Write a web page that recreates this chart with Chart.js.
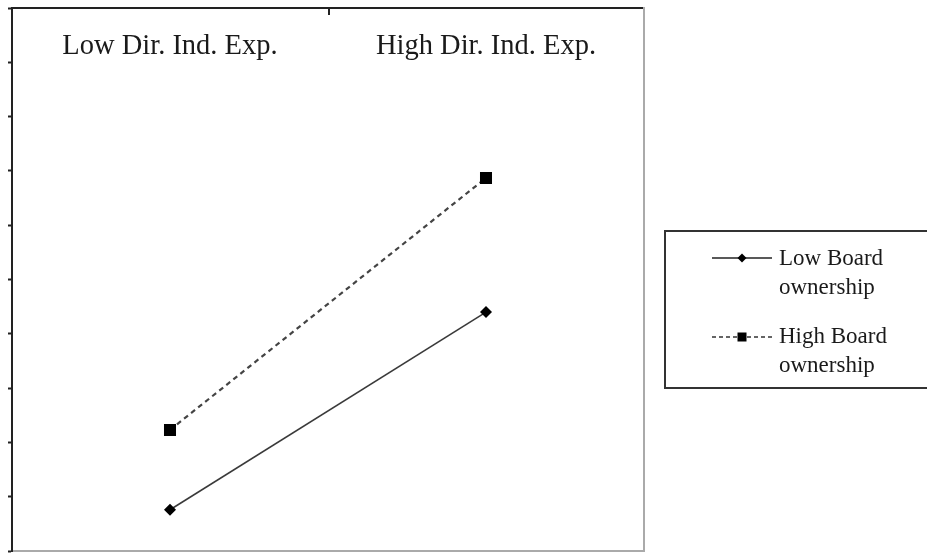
<!DOCTYPE html>
<html>
<head>
<meta charset="utf-8">
<script src="https://cdn.jsdelivr.net/npm/chart.js@4.4.0/dist/chart.umd.min.js"></script>
<style>
  html, body { margin: 0; padding: 0; background: #fff; }
  #wrap { width: 927px; height: 553px; position: relative; }
</style>
</head>
<body>
<div id="wrap"><canvas id="c" width="927" height="553"></canvas></div>
<script>
// ---- data ----
const categories = ["Low Dir. Ind. Exp.", "High Dir. Ind. Exp."];
const lowBoard = [0.76, 4.40];
const highBoard = [2.23, 6.87];
const seriesNames = [["Low Board", "ownership"], ["High Board", "ownership"]];
const yTicks = [0, 1, 2, 3, 4, 5, 6, 7, 8, 9, 10];

const SERIF = '"Liberation Serif", "Times New Roman", serif';

const decorPlugin = {
  id: 'decor',
  afterDraw(chart) {
    const ctx = chart.ctx;
    const xs = chart.scales.x;
    const ca = chart.chartArea;
    ctx.save();
    // middle tick on the top axis (category boundary)
    const mid = (xs.getPixelForTick(0) + xs.getPixelForTick(1)) / 2 + 1;
    ctx.strokeStyle = '#222';
    ctx.lineWidth = 2;
    ctx.beginPath();
    ctx.moveTo(mid, ca.top);
    ctx.lineTo(mid, ca.top + 7);
    ctx.stroke();
    // category labels inside the plot, under the top axis
    ctx.fillStyle = '#1a1a1a';
    ctx.font = '28.5px ' + SERIF;
    ctx.textAlign = 'center';
    ctx.textBaseline = 'alphabetic';
    categories.forEach((c, i) => {
      ctx.fillText(c, xs.getPixelForTick(i), ca.top + 46);
    });

    // legend box
    const bx = 665, by = 231, bw = 270, bh = 157;
    ctx.strokeStyle = '#333';
    ctx.lineWidth = 2;
    ctx.strokeRect(bx, by, bw, bh);
    const items = [
      { lineY: 258, base: 265 },
      { lineY: 337, base: 343 }
    ];
    chart.data.datasets.forEach((ds, i) => {
      const it = items[i];
      ctx.save();
      ctx.strokeStyle = i === 0 ? '#222' : '#333';
      ctx.lineWidth = i === 0 ? 1.6 : 1.4;
      ctx.setLineDash(i === 0 ? [] : [4, 3]);
      ctx.beginPath();
      ctx.moveTo(712, it.lineY);
      ctx.lineTo(772, it.lineY);
      ctx.stroke();
      ctx.restore();
      ctx.fillStyle = '#000';
      if (ds.pointStyle === 'rectRot') {
        const r = 4.5;
        ctx.beginPath();
        ctx.moveTo(742, it.lineY - r);
        ctx.lineTo(742 + r, it.lineY);
        ctx.lineTo(742, it.lineY + r);
        ctx.lineTo(742 - r, it.lineY);
        ctx.closePath();
        ctx.fill();
      } else {
        ctx.fillRect(742 - 4.5, it.lineY - 4.5, 9, 9);
      }
      ctx.fillStyle = '#1a1a1a';
      ctx.font = '23px ' + SERIF;
      ctx.textAlign = 'left';
      seriesNames[i].forEach((t, k) => {
        ctx.fillText(t, 779, it.base + k * 29);
      });
    });
    ctx.restore();
  }
};

new Chart(document.getElementById('c'), {
  type: 'line',
  data: {
    labels: categories,
    datasets: [
      {
        label: seriesNames[0].join(' '),
        data: lowBoard,
        borderColor: '#3a3a3a',
        borderWidth: 1.6,
        pointStyle: 'rectRot',
        pointRadius: 6,
        pointBackgroundColor: '#000',
        pointBorderColor: '#000',
        pointBorderWidth: 0,
        tension: 0
      },
      {
        label: seriesNames[1].join(' '),
        data: highBoard,
        borderColor: '#444',
        borderWidth: 2.2,
        borderDash: [5, 4],
        pointStyle: 'rect',
        pointRadius: 8.5,
        pointBackgroundColor: '#000',
        pointBorderColor: '#000',
        pointBorderWidth: 0,
        tension: 0
      }
    ]
  },
  options: {
    responsive: false,
    animation: false,
    devicePixelRatio: 1,
    layout: { autoPadding: false, padding: { left: 8, right: 283, top: 8, bottom: 2 } },
    plugins: { legend: { display: false }, tooltip: { enabled: false } },
    scales: {
      x: {
        type: 'category',
        position: 'top',
        offset: true,
        ticks: { display: false },
        grid: { display: true, drawOnChartArea: false, drawTicks: false, offset: true },
        border: { display: true, color: '#222', width: 2 }
      },
      xb: {
        type: 'linear',
        position: 'bottom',
        ticks: { display: false },
        grid: { display: false, drawTicks: false },
        border: { display: true, color: '#aaa', width: 2 }
      },
      y: {
        type: 'linear',
        position: 'left',
        min: 0,
        max: 10,
        afterBuildTicks(scale) { scale.ticks = yTicks.map(v => ({ value: v })); },
        ticks: { display: false },
        grid: { display: true, drawOnChartArea: false, drawTicks: true, tickLength: 4, color: '#222', tickWidth: 2 },
        border: { display: true, color: '#222', width: 2 }
      },
      yr: {
        type: 'linear',
        position: 'right',
        ticks: { display: false },
        grid: { display: false, drawTicks: false },
        border: { display: true, color: '#aaa', width: 2 }
      }
    }
  },
  plugins: [decorPlugin]
});
</script>
</body>
</html>
